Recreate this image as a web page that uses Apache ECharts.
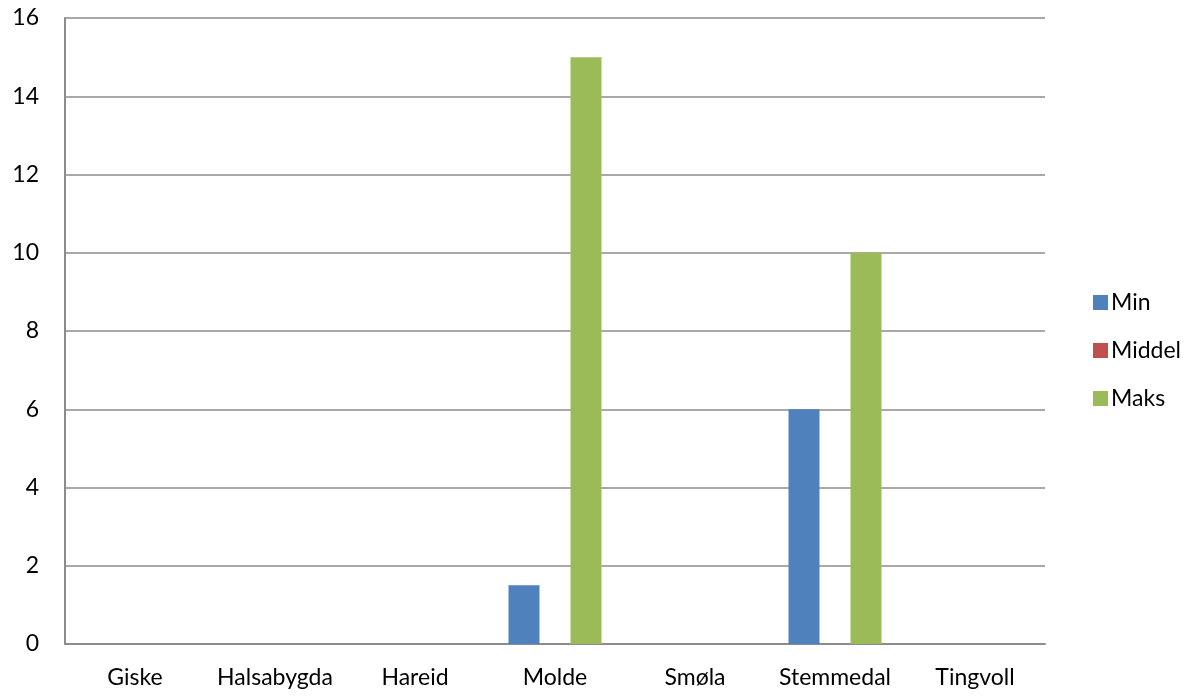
<!DOCTYPE html>
<html>
<head>
<meta charset="utf-8">
<script src="https://cdn.jsdelivr.net/npm/echarts@6/dist/echarts.min.js"></script>
<style>html,body{margin:0;padding:0;background:#fff}#c{width:1192px;height:697px}</style>
</head>
<body>
<div id="c"></div>
<script>
const categories = ['Giske', 'Halsabygda', 'Hareid', 'Molde', 'Smøla', 'Stemmedal', 'Tingvoll'];
const minValues = [null, null, null, 1.5, null, 6, null];
const middelValues = [null, null, null, null, null, null, null];
const maksValues = [null, null, null, 15, null, 10, null];
const yTicks = { min: 0, max: 16, interval: 2 };

const chart = echarts.init(document.getElementById('c'));
const font = 'Lato, "Open Sans", sans-serif';
chart.setOption({
  animation: false,
  grid: { left: 65, right: 147, top: 18, bottom: 53 },
  legend: {
    orient: 'vertical',
    left: 1088,
    top: 286,
    itemWidth: 15,
    itemHeight: 15,
    itemGap: 25,
    icon: 'rect',
    textStyle: { fontFamily: font, fontSize: 23, color: '#000', padding: [0, 0, 0, -2] },
    data: ['Min', 'Middel', 'Maks']
  },
  xAxis: {
    type: 'category',
    data: categories,
    axisLine: { lineStyle: { color: '#8c8c8c', width: 2 } },
    axisTick: { show: false },
    axisLabel: { fontFamily: font, fontSize: 23, color: '#000', margin: 22, interval: 0 }
  },
  yAxis: {
    type: 'value',
    min: yTicks.min,
    max: yTicks.max,
    interval: yTicks.interval,
    axisLine: { show: true, lineStyle: { color: '#8c8c8c', width: 2 } },
    axisTick: { show: false },
    splitLine: { lineStyle: { color: '#8c8c8c', width: 1.5 } },
    axisLabel: { fontFamily: font, fontSize: 23, color: '#000', margin: 26 }
  },
  series: [
    { name: 'Min', type: 'bar', data: minValues, barWidth: 31, barGap: '0%', barCategoryGap: '34%', itemStyle: { color: '#4f81bd' } },
    { name: 'Middel', type: 'bar', data: middelValues, barWidth: 31, itemStyle: { color: '#c0504d' } },
    { name: 'Maks', type: 'bar', data: maksValues, barWidth: 31, itemStyle: { color: '#9bbb59' } }
  ]
});
</script>
</body>
</html>
